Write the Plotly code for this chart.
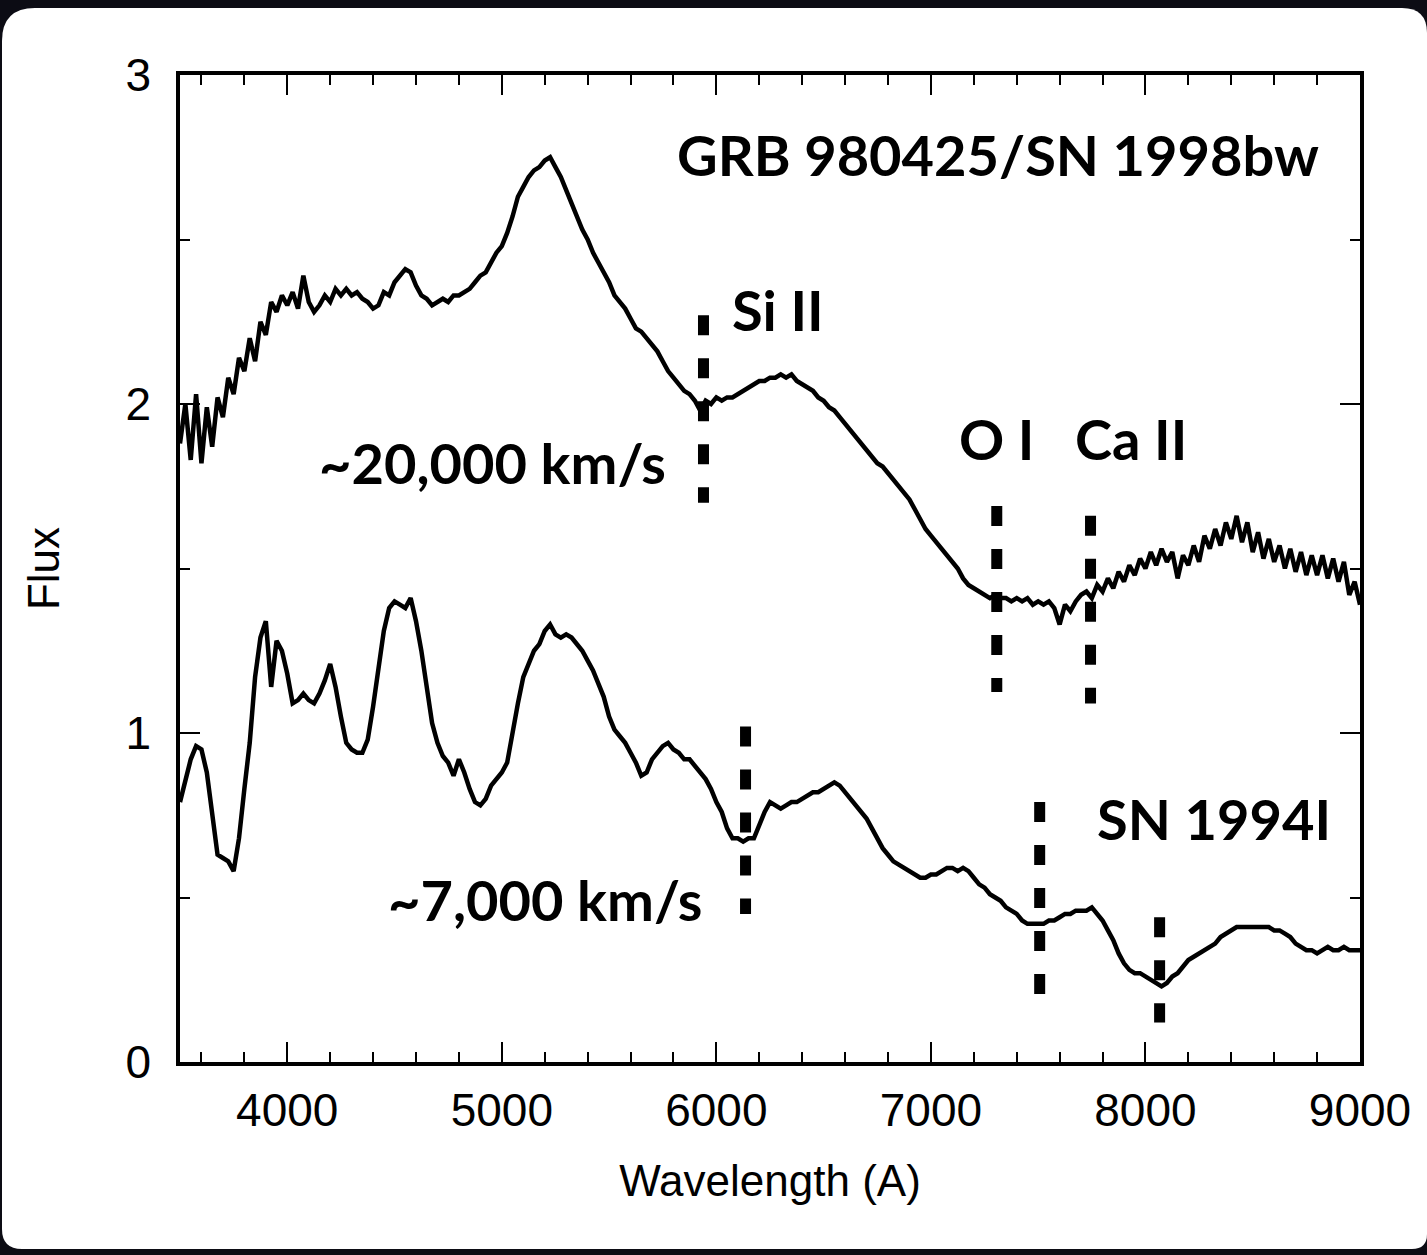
import plotly.graph_objects as go

# ---------------- data ----------------
# wavelength grid (Angstrom), 25 A steps from 3500 to 9000
wavelength = list(range(3500, 9001, 25))

# GRB 980425 / SN 1998bw spectrum (upper curve)
flux_sn1998bw = [
    1.88, 2.00, 1.83, 2.03, 1.82, 1.99, 1.87, 2.02, 1.96, 2.08,   # 3500-3725
    2.03, 2.14, 2.10, 2.20, 2.13, 2.25, 2.21, 2.31, 2.28, 2.33,   # 3750-3975
    2.30, 2.34, 2.29, 2.39, 2.31, 2.28, 2.30, 2.33, 2.31, 2.35,   # 4000-4225
    2.33, 2.35, 2.33, 2.34, 2.32, 2.31, 2.29, 2.30, 2.34, 2.33,   # 4250-4475
    2.37, 2.39, 2.41, 2.40, 2.36, 2.33, 2.32, 2.30, 2.31, 2.32,   # 4500-4725
    2.31, 2.33, 2.33, 2.34, 2.35, 2.37, 2.39, 2.40, 2.43, 2.46,   # 4750-4975
    2.48, 2.52, 2.57, 2.63, 2.66, 2.69, 2.71, 2.72, 2.74, 2.75,   # 5000-5225
    2.72, 2.69, 2.65, 2.61, 2.57, 2.53, 2.50, 2.46, 2.43, 2.40,   # 5250-5475
    2.37, 2.33, 2.31, 2.29, 2.26, 2.23, 2.22, 2.20, 2.18, 2.16,   # 5500-5725
    2.13, 2.10, 2.08, 2.06, 2.04, 2.03, 2.01, 1.98, 2.01, 2.00,   # 5750-5975
    2.02, 2.01, 2.02, 2.02, 2.03, 2.04, 2.05, 2.06, 2.07, 2.07,   # 6000-6225
    2.08, 2.08, 2.09, 2.08, 2.09, 2.07, 2.06, 2.05, 2.04, 2.02,   # 6250-6475
    2.01, 1.99, 1.98, 1.96, 1.94, 1.92, 1.90, 1.88, 1.86, 1.84,   # 6500-6725
    1.82, 1.81, 1.79, 1.77, 1.75, 1.73, 1.71, 1.68, 1.65, 1.62,   # 6750-6975
    1.60, 1.58, 1.56, 1.54, 1.52, 1.50, 1.47, 1.45, 1.44, 1.43,   # 7000-7225
    1.42, 1.41, 1.42, 1.41, 1.41, 1.40, 1.41, 1.40, 1.41, 1.39,   # 7250-7475
    1.40, 1.39, 1.40, 1.38, 1.33, 1.39, 1.37, 1.40, 1.42, 1.43,   # 7500-7725
    1.41, 1.45, 1.43, 1.47, 1.44, 1.49, 1.46, 1.51, 1.48, 1.53,   # 7750-7975
    1.50, 1.55, 1.51, 1.56, 1.52, 1.55, 1.47, 1.54, 1.51, 1.57,   # 8000-8225
    1.52, 1.60, 1.56, 1.62, 1.57, 1.64, 1.59, 1.66, 1.58, 1.64,   # 8250-8475
    1.55, 1.61, 1.53, 1.59, 1.52, 1.57, 1.50, 1.56, 1.49, 1.55,   # 8500-8725
    1.48, 1.54, 1.48, 1.54, 1.47, 1.53, 1.46, 1.52, 1.42, 1.46,   # 8750-8975
    1.39,                                                         # 9000
]

# SN 1994I spectrum (lower curve)
flux_sn1994i = [
    0.79, 0.85, 0.92, 0.96, 0.95, 0.88, 0.75, 0.63, 0.62, 0.61,   # 3500-3725
    0.58, 0.68, 0.83, 0.97, 1.17, 1.29, 1.34, 1.14, 1.28, 1.25,   # 3750-3975
    1.18, 1.09, 1.10, 1.12, 1.10, 1.09, 1.12, 1.16, 1.21, 1.14,   # 4000-4225
    1.05, 0.97, 0.95, 0.94, 0.94, 0.98, 1.08, 1.20, 1.31, 1.38,   # 4250-4475
    1.40, 1.39, 1.38, 1.41, 1.34, 1.25, 1.13, 1.03, 0.97, 0.93,   # 4500-4725
    0.91, 0.87, 0.92, 0.88, 0.83, 0.79, 0.78, 0.80, 0.84, 0.86,   # 4750-4975
    0.88, 0.91, 1.01, 1.09, 1.17, 1.21, 1.25, 1.27, 1.31, 1.33,   # 5000-5225
    1.30, 1.29, 1.30, 1.29, 1.27, 1.25, 1.22, 1.19, 1.15, 1.11,   # 5250-5475
    1.05, 1.01, 0.99, 0.97, 0.94, 0.91, 0.87, 0.88, 0.92, 0.94,   # 5500-5725
    0.96, 0.97, 0.95, 0.94, 0.92, 0.92, 0.90, 0.88, 0.86, 0.83,   # 5750-5975
    0.79, 0.76, 0.71, 0.68, 0.68, 0.67, 0.68, 0.68, 0.72, 0.76,   # 6000-6225
    0.79, 0.78, 0.77, 0.78, 0.79, 0.79, 0.80, 0.81, 0.82, 0.82,   # 6250-6475
    0.83, 0.84, 0.85, 0.84, 0.82, 0.80, 0.78, 0.76, 0.74, 0.71,   # 6500-6725
    0.68, 0.65, 0.63, 0.61, 0.60, 0.59, 0.58, 0.57, 0.56, 0.56,   # 6750-6975
    0.57, 0.57, 0.58, 0.59, 0.59, 0.58, 0.59, 0.58, 0.56, 0.54,   # 7000-7225
    0.53, 0.51, 0.50, 0.49, 0.47, 0.46, 0.45, 0.43, 0.42, 0.42,   # 7250-7475
    0.42, 0.42, 0.43, 0.43, 0.44, 0.45, 0.45, 0.46, 0.46, 0.46,   # 7500-7725
    0.47, 0.45, 0.43, 0.40, 0.37, 0.33, 0.30, 0.28, 0.27, 0.27,   # 7750-7975
    0.26, 0.25, 0.24, 0.23, 0.24, 0.26, 0.27, 0.29, 0.31, 0.32,   # 8000-8225
    0.33, 0.34, 0.35, 0.36, 0.38, 0.39, 0.40, 0.41, 0.41, 0.41,   # 8250-8475
    0.41, 0.41, 0.41, 0.41, 0.40, 0.40, 0.39, 0.38, 0.36, 0.35,   # 8500-8725
    0.34, 0.34, 0.33, 0.34, 0.35, 0.34, 0.34, 0.35, 0.34, 0.34,   # 8750-8975
    0.34,                                                         # 9000
]

# absorption-feature markers (dashed vertical lines)
feature_wavelength = [5940, 7307, 7744, 6136, 7507, 8066]
feature_flux_top = [2.27, 1.69, 1.66, 1.02, 0.79, 0.44]
feature_flux_bottom = [1.70, 1.125, 1.09, 0.45, 0.20, 0.12]

# text labels
label_text = ["GRB 980425/SN 1998bw", "Si II", "~20,000 km/s", "O I", "Ca II",
              "SN 1994I", "~7,000 km/s"]
label_wavelength = [7311, 6286, 4957, 7307, 7931, 8318, 5199]
label_flux = [2.757, 2.286, 1.821, 1.894, 1.894, 0.739, 0.495]

x_ticks_major = 1000
x_ticks_minor = 200
y_ticks_major = 1
y_ticks_minor = 0.5

# ---------------- figure ----------------
W, H = 1427, 1255
ML, MR, MT, MB = 180, 67, 75, 193
PW, PH = W - ML - MR, H - MT - MB

fig = go.Figure()

for flux in (flux_sn1998bw, flux_sn1994i):
    fig.add_trace(go.Scatter(
        x=wavelength, y=flux, mode="lines",
        line=dict(color="black", width=4.5),
        showlegend=False, hoverinfo="skip",
    ))

for wl, top, bot in zip(feature_wavelength, feature_flux_top, feature_flux_bottom):
    fig.add_trace(go.Scatter(
        x=[wl, wl], y=[top, bot], mode="lines",
        line=dict(color="black", width=11, dash="20px,23px"),
        showlegend=False, hoverinfo="skip",
    ))

for txt, wl, fl in zip(label_text, label_wavelength, label_flux):
    fig.add_annotation(
        x=wl, y=fl, xref="x", yref="y", text=txt, showarrow=False,
        xanchor="center", yanchor="middle",
        font=dict(family="Lato", size=56, color="black", weight="bold"),
    )


# white rounded panel behind the chart (black outer background)
def px(xp):
    return (xp - ML) / PW


def py(yp):
    return (MT + PH - yp) / PH


left, right, top, bottom = 2, 1427, 8, 1249
rtl, rtr, rbr, rbl = 33, 25, 15, 20
path = (
    f"M {px(left)},{py(top + rtl)} "
    f"Q {px(left)},{py(top)} {px(left + rtl)},{py(top)} "
    f"L {px(right - rtr)},{py(top)} "
    f"Q {px(right)},{py(top)} {px(right)},{py(top + rtr)} "
    f"L {px(right)},{py(bottom - rbr)} "
    f"Q {px(right)},{py(bottom)} {px(right - rbr)},{py(bottom)} "
    f"L {px(left + rbl)},{py(bottom)} "
    f"Q {px(left)},{py(bottom)} {px(left)},{py(bottom - rbl)} Z"
)
fig.add_shape(type="path", path=path, xref="paper", yref="paper",
              fillcolor="white", line=dict(width=0), layer="below")

axis_font = dict(family="Liberation Sans", size=46, color="black")
common = dict(
    showline=True, linecolor="black", linewidth=3.5, mirror="ticks",
    ticks="inside", ticklen=20, tickwidth=2, tickcolor="black",
    showgrid=False, zeroline=False, tickfont=axis_font,
)

fig.update_xaxes(
    range=[3500, 9000], tick0=0, dtick=x_ticks_major,
    minor=dict(ticks="inside", ticklen=10, tickwidth=2, tickcolor="black",
               dtick=x_ticks_minor, tick0=0, showgrid=False),
    title=dict(text="Wavelength (A)", font=dict(family="Liberation Sans", size=44,
                                                 color="black"), standoff=31),
    ticklabelstandoff=5,
    **common,
)
fig.update_yaxes(
    range=[0, 3], tick0=0, dtick=y_ticks_major,
    minor=dict(ticks="inside", ticklen=10, tickwidth=2, tickcolor="black",
               dtick=y_ticks_minor, tick0=0, showgrid=False),
    title=dict(text="Flux", font=dict(family="Liberation Sans", size=44,
                                       color="black"), standoff=53),
    ticklabelstandoff=16,
    **common,
)

fig.update_layout(
    width=W, height=H,
    margin=dict(l=ML, r=MR, t=MT, b=MB, pad=0, autoexpand=False),
    paper_bgcolor="#0c0c14", plot_bgcolor="white",
    showlegend=False,
)

fig.write_html("out.html")
